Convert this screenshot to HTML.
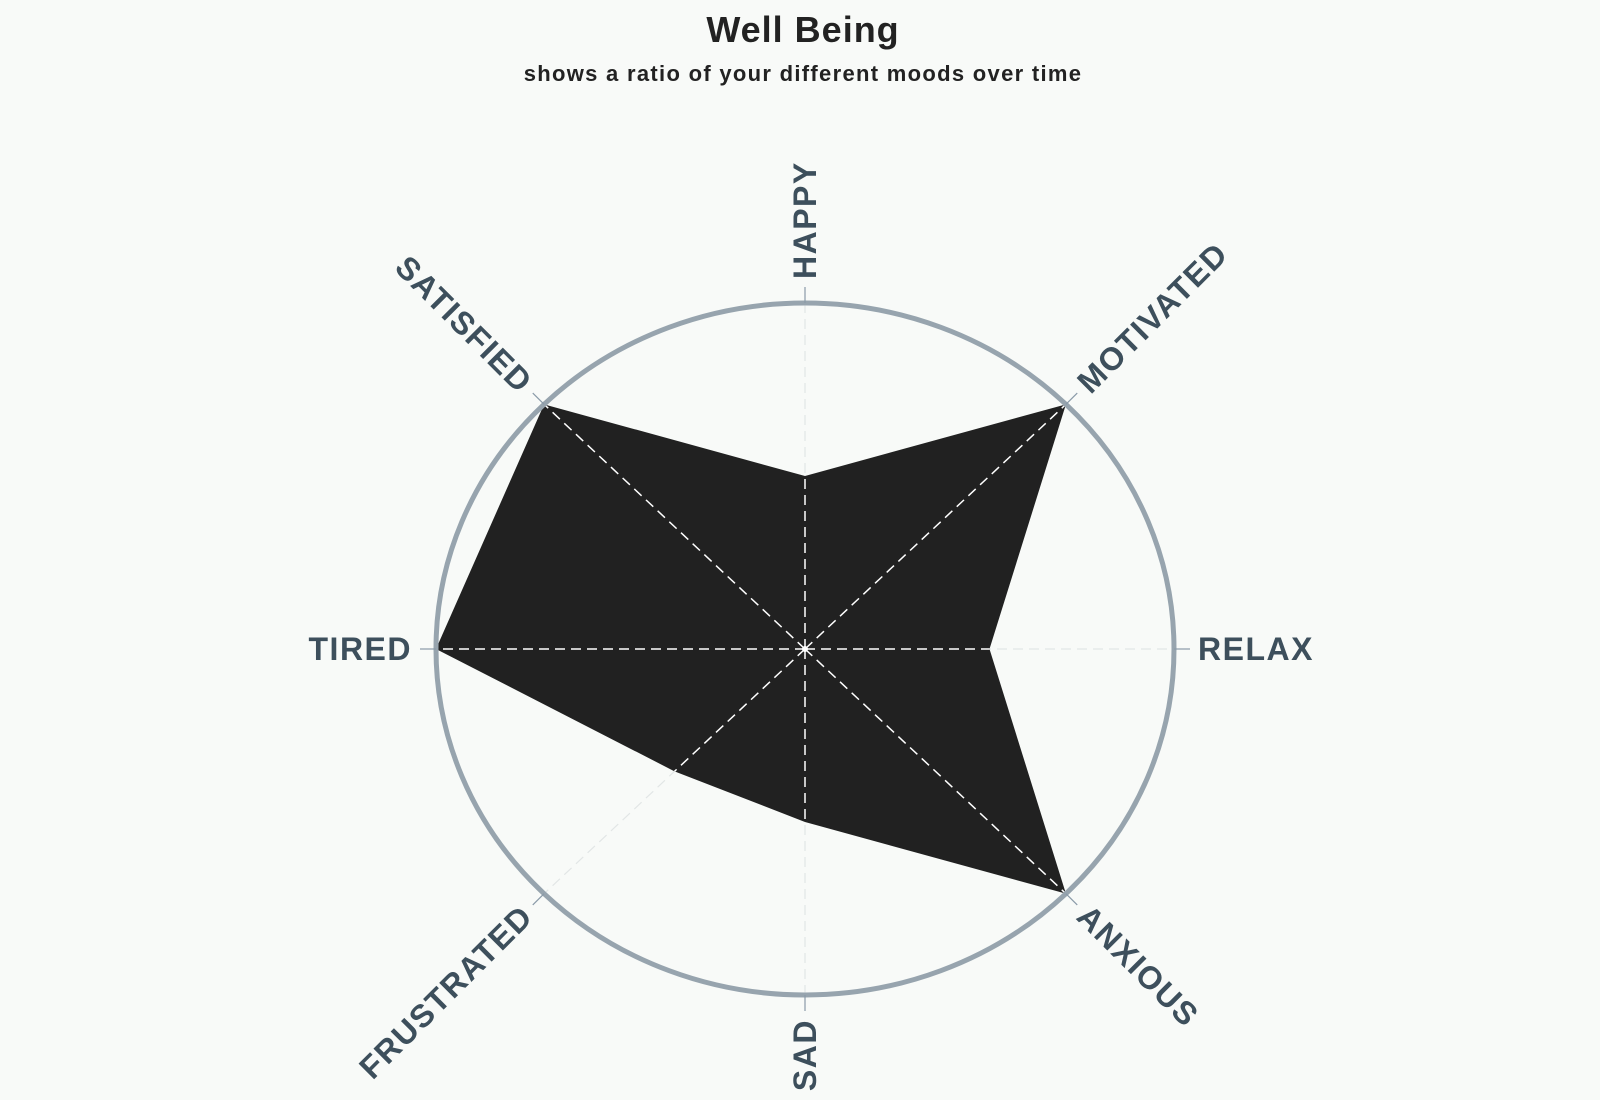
<!DOCTYPE html>
<html><head><meta charset="utf-8"><style>
html,body{margin:0;padding:0;background:#f8faf8;}
svg{display:block;font-family:"Liberation Sans",Arial,sans-serif;}
</style></head><body>
<svg id="chart" width="1600" height="1100" viewBox="0 0 1600 1100">
<rect width="1600" height="1100" fill="#f8faf8"/>
<text x="803" y="42" text-anchor="middle" font-size="36" font-weight="bold" letter-spacing="1" fill="#222">Well Being</text>
<text x="803" y="81" text-anchor="middle" font-size="22" font-weight="bold" letter-spacing="1.3" fill="#222">shows a ratio of your different moods over time</text>
<g id="plot"></g>
</svg>
<script>
const categories = ["HAPPY","MOTIVATED","RELAX","ANXIOUS","SAD","FRUSTRATED","TIRED","SATISFIED"];
const values = [0.5, 1.0, 0.5, 1.0, 0.5, 0.5, 1.0, 1.0];
const maxValue = 1.0;

const NS = "http://www.w3.org/2000/svg";
const cx = 805, cy = 649, rx = 369, ry = 346;
const plot = document.getElementById('plot');
function mk(tag, attrs){const e=document.createElementNS(NS,tag);for(const k in attrs)e.setAttribute(k,attrs[k]);return e;}
function ang(i){return -Math.PI/2 + i*2*Math.PI/categories.length;}
function pt(i, v){const a=ang(i), f=v/maxValue;return [cx+Math.cos(a)*rx*f, cy+Math.sin(a)*ry*f];}

categories.forEach((c,i)=>{
  const [x,y]=pt(i,maxValue);
  const l=mk('line',{x1:cx,y1:cy,x2:x,y2:y,stroke:'#e2e6e6','stroke-width':1.2,'stroke-dasharray':'10 6'});
  
  
  plot.appendChild(l);
});
const pts = values.map((v,i)=>pt(i,v).join(',')).join(' ');
const defs = mk('defs',{});
const cp = mk('clipPath',{id:'polyclip'});
cp.appendChild(mk('polygon',{points:pts}));
defs.appendChild(cp);
plot.appendChild(defs);
const poly = mk('polygon',{points:pts,fill:'#212121'});


plot.appendChild(poly);
const g = mk('g',{'clip-path':'url(#polyclip)'});
categories.forEach((c,i)=>{
  const [x,y]=pt(i,maxValue);
  const l=mk('line',{x1:cx,y1:cy,x2:x,y2:y,stroke:'#ffffff','stroke-width':1.5,'stroke-dasharray':'10 6'});
  
  
  g.appendChild(l);
});
plot.appendChild(g);
const dot = mk('circle',{cx:cx,cy:cy,r:3,fill:'#fff'});


plot.appendChild(dot);
const el = mk('ellipse',{cx:cx,cy:cy,rx:rx,ry:ry,fill:'none',stroke:'#97a4ae','stroke-width':5});


plot.appendChild(el);
categories.forEach((c,i)=>{
  const a=ang(i);
  const [x1,y1]=pt(i,maxValue);
  const x2=x1+Math.cos(a)*16, y2=y1+Math.sin(a)*16;
  const t=mk('line',{x1:x1,y1:y1,x2:x2,y2:y2,stroke:'#8a9aa8','stroke-width':1.2});
  
  
  plot.appendChild(t);
  const lx=x1+Math.cos(a)*24, ly=y1+Math.sin(a)*24;
  const cosA=Math.cos(a);
  let rot, anchor;
  if (cosA > 0.01 || (Math.abs(cosA)<=0.01 && Math.sin(a)<0)) { rot=a*180/Math.PI; anchor='start'; }
  else { rot=a*180/Math.PI+180; anchor='end'; }
  const tx=mk('text',{x:lx,y:ly,'text-anchor':anchor,'dominant-baseline':'central','font-size':32,'font-weight':'bold','letter-spacing':1.5,fill:'#3d4f5c',transform:`rotate(${rot} ${lx} ${ly})`});
  tx.textContent=c;
  
  
  plot.appendChild(tx);
});
</script>
</body></html>
